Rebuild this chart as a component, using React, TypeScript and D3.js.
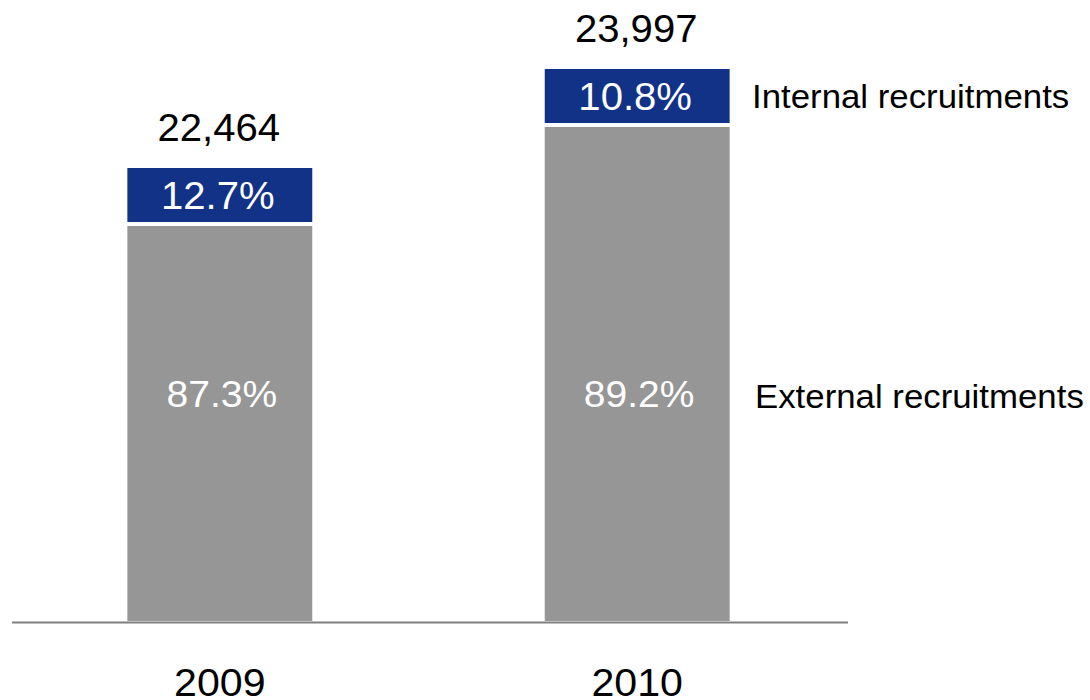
import React from "react";
import * as d3 from "d3";

const years = ["2009", "2010"];
const totals = [22464, 23997];
const internalShare = [12.7, 10.8];
const externalShare = [87.3, 89.2];
const seriesLabels = ["Internal recruitments", "External recruitments"];

const W = 1090;
const H = 700;
const baseY = 621;
const font = "'Liberation Sans', Arial, Helvetica, sans-serif";
const stretch = 1.055;

function T({ x, y, size, fill, anchor, children }: any) {
  return (
    <text
      transform={`translate(${x},${y}) scale(${stretch},1)`}
      textAnchor={anchor || "middle"}
      fontSize={size}
      fill={fill}
    >
      {children}
    </text>
  );
}

export default function App() {
  const x = d3
    .scaleBand<string>()
    .domain(years)
    .range([10.5, 846.5])
    .paddingInner(0.557)
    .paddingOuter(0.28);
  const y = d3.scaleLinear().domain([15450, 23997]).range([baseY, 69]);
  const blueH = 54;
  const gap = 4;
  const fmt = d3.format(",");

  return (
    <svg
      width={W}
      height={H}
      style={{ position: "absolute", left: 0, top: 0, background: "#fff" }}
      fontFamily={font}
    >
      {years.map((yr, i) => {
        const bx = x(yr)!;
        const bw = x.bandwidth();
        const cx = bx + bw / 2;
        const top = y(totals[i]);
        const grayTop = top + blueH + gap;
        return (
          <g key={yr}>
            <rect x={bx} y={top} width={bw} height={blueH} fill="#123287" />
            <rect x={bx} y={grayTop} width={bw} height={baseY - grayTop} fill="#969696" />
            <T x={cx - 1} y={top - 27} size={38} fill="#000">
              {fmt(totals[i])}
            </T>
            <T x={cx - 2} y={top + 41} size={38} fill="#fff">
              {internalShare[i].toFixed(1)}%
            </T>
            <T x={cx + 2} y={407} size={37} fill="#fff">
              {externalShare[i].toFixed(1)}%
            </T>
            <T x={cx} y={696} size={39} fill="#000">
              {yr}
            </T>
          </g>
        );
      })}
      <line x1={12} x2={848} y1={baseY + 1.5} y2={baseY + 1.5} stroke="#7f7f7f" strokeWidth={2} />
      <T x={752} y={107.5} size={33} fill="#000" anchor="start">
        {seriesLabels[0]}
      </T>
      <T x={755} y={408} size={33} fill="#000" anchor="start">
        {seriesLabels[1]}
      </T>
    </svg>
  );
}
